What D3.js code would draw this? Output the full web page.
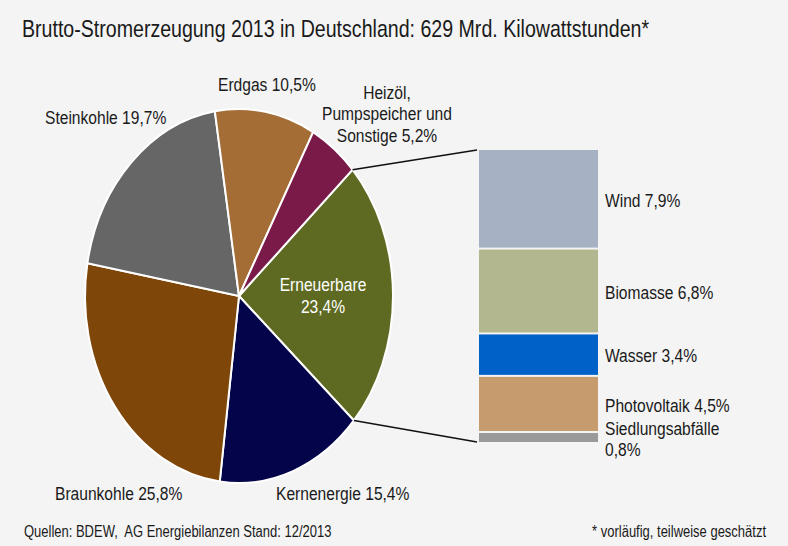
<!DOCTYPE html>
<html>
<head>
<meta charset="utf-8">
<script src="https://cdn.jsdelivr.net/npm/d3@7"></script>
<style>
  body { margin: 0; background: #f4f4f4; }
  svg { display: block; }
  text { font-family: "Liberation Sans", Arial, sans-serif; fill: #1a1a1a; white-space: pre; }
</style>
</head>
<body>
<div id="chart"></div>
<script>
// Brutto-Stromerzeugung 2013, shares in %
const sources = ["Erneuerbare", "Kernenergie", "Braunkohle", "Steinkohle", "Erdgas", "Heizöl, Pumpspeicher und Sonstige"];
const shares = [23.4, 15.4, 25.8, 19.7, 10.5, 5.2];
const sourceColors = ["#5e6a21", "#04044a", "#7e4609", "#666666", "#a46d36", "#7a1a48"];

const renewables = ["Wind", "Biomasse", "Wasser", "Photovoltaik", "Siedlungsabfälle"];
const renewShares = [7.9, 6.8, 3.4, 4.5, 0.8];
const renewColors = ["#a6b1c3", "#b2b78f", "#0062c8", "#c69b6d", "#9a9a9a"];

const title = "Brutto-Stromerzeugung 2013 in Deutschland: 629 Mrd. Kilowattstunden*";
const footLeft = "Quellen: BDEW,  AG Energiebilanzen Stand: 12/2013";
const footRight = "* vorläufig, teilweise geschätzt";

const W = 788, H = 546;
const k = 1.214;            // the whole picture is stretched vertically
const Y = v => v / k;       // real pixel y -> inner y

const fmt = v => d3.format(".1f")(v).replace(".", ",") + "%";

const svg = d3.select("#chart").append("svg")
  .attr("width", W).attr("height", H);
svg.append("rect").attr("width", W).attr("height", H).attr("fill", "#f4f4f4");

const g = svg.append("g").attr("transform", `scale(1,${k})`);

// title
g.append("text").attr("x", 22).attr("y", Y(37))
  .style("font-size", "19.6px").text(title);

// pie
const cx = 239, cy = 296, r = 154;
const a0 = 47.5 * Math.PI / 180;
const pie = d3.pie().sort(null).startAngle(a0).endAngle(a0 + 2 * Math.PI);
const arcs = pie(shares);
const arc = d3.arc().innerRadius(0).outerRadius(r);

const pg = g.append("g").attr("transform", `translate(${cx},${Y(cy)})`);
pg.selectAll("path").data(arcs).enter().append("path")
  .attr("d", arc)
  .attr("fill", (d, i) => sourceColors[i])
  .attr("stroke", "#fff")
  .attr("stroke-width", 2)
  .attr("vector-effect", "non-scaling-stroke");

// pie labels
const labels = [
  { lines: ["Erneuerbare", fmt(shares[0])], x: 323, y: [291, 313], anchor: "middle", fill: "#fff" },
  { lines: [sources[1] + " " + fmt(shares[1])], x: 276, y: [500], anchor: "start" },
  { lines: [sources[2] + " " + fmt(shares[2])], x: 55, y: [500], anchor: "start" },
  { lines: [sources[3] + " " + fmt(shares[3])], x: 45, y: [124], anchor: "start" },
  { lines: [sources[4] + " " + fmt(shares[4])], x: 218, y: [91], anchor: "start" },
  { lines: ["Heizöl,", "Pumpspeicher und", "Sonstige " + fmt(shares[5])], x: 387, y: [99, 120, 142], anchor: "middle" }
];
labels.forEach(l => {
  l.lines.forEach((t, j) => {
    g.append("text").attr("x", l.x).attr("y", Y(l.y[j]))
      .attr("text-anchor", l.anchor)
      .style("font-size", "15.6px")
      .style("fill", l.fill || "#1a1a1a")
      .text(t);
  });
});

// stacked bar for the renewables
const bx = 479, bw = 119;
const yBar = d3.scaleLinear().domain([0, d3.sum(renewShares)]).range([150, 442]);
let acc = 0;
const stack = renewShares.map(v => { const s = { y0: acc, y1: acc + v }; acc += v; return s; });

g.selectAll("rect.bar").data(stack).enter().append("rect")
  .attr("class", "bar")
  .attr("x", bx)
  .attr("width", bw)
  .attr("y", d => Y(yBar(d.y0) + (d.y0 > 0 ? 1 : 0)))
  .attr("height", d => Y(yBar(d.y1) - yBar(d.y0) - (d.y0 > 0 ? 1 : 0) - (d.y1 < acc ? 1 : 0)))
  .attr("fill", (d, i) => renewColors[i]);

const barLabels = [
  { lines: [renewables[0] + " " + fmt(renewShares[0])], y: [207] },
  { lines: [renewables[1] + " " + fmt(renewShares[1])], y: [299] },
  { lines: [renewables[2] + " " + fmt(renewShares[2])], y: [362] },
  { lines: [renewables[3] + " " + fmt(renewShares[3])], y: [412] },
  { lines: [renewables[4], fmt(renewShares[4])], y: [435, 456] }
];
barLabels.forEach(l => {
  l.lines.forEach((t, j) => {
    g.append("text").attr("x", 605).attr("y", Y(l.y[j]))
      .style("font-size", "15.6px").text(t);
  });
});

// connector lines from the Erneuerbare slice to the bar
const ren = arcs[0];
const edge = a => [cx + r * Math.sin(a), Y(cy) - r * Math.cos(a)];
const p1 = edge(ren.startAngle), p2 = edge(ren.endAngle);
g.append("line")
  .attr("x1", p1[0]).attr("y1", p1[1])
  .attr("x2", bx - 2).attr("y2", Y(yBar(0)))
  .attr("stroke", "#111").attr("stroke-width", 1.6)
  .attr("vector-effect", "non-scaling-stroke");
g.append("line")
  .attr("x1", p2[0]).attr("y1", p2[1])
  .attr("x2", bx - 2).attr("y2", Y(yBar(acc)))
  .attr("stroke", "#111").attr("stroke-width", 1.6)
  .attr("vector-effect", "non-scaling-stroke");

// footer
g.append("text").attr("x", 24).attr("y", Y(537))
  .style("font-size", "13px").text(footLeft);
g.append("text").attr("x", 766).attr("y", Y(537))
  .attr("text-anchor", "end")
  .style("font-size", "13px").text(footRight);
</script>
</body>
</html>
